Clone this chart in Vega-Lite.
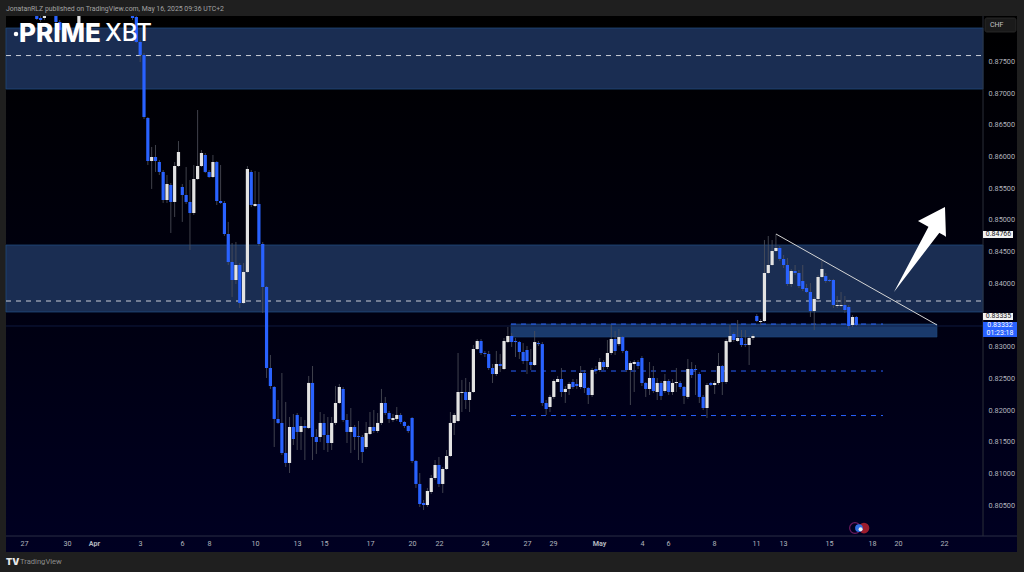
{"$schema":"https://vega.github.io/schema/vega-lite/v6.json","width":1024,"height":572,"padding":0,"autosize":{"type":"none"},"background":"#1f1f1f","config":{"view":{"stroke":null},"font":"Roboto"},
"datasets":{"candles":[
{"t":-28,"o":0.88214,"h":0.88214,"l":0.88151,"c":0.88167},{"t":-27,"o":0.88183,"h":0.88214,"l":0.8812,"c":0.88151},{"t":-26,"o":0.88183,"h":0.88214,"l":0.88151,"c":0.88214},{"t":-23,"o":0.88214,"h":0.88214,"l":0.88088,"c":0.8812},{"t":-22,"o":0.8812,"h":0.88151,"l":0.87947,"c":0.87994},{"t":-21,"o":0.87994,"h":0.88025,"l":0.87868,"c":0.879},{"t":-17,"o":0.88072,"h":0.88214,"l":0.88025,"c":0.88214},{"t":-3,"o":0.88214,"h":0.88214,"l":0.88151,"c":0.88183},{"t":-2,"o":0.88199,"h":0.88214,"l":0.87789,"c":0.87805},{"t":-1,"o":0.87805,"h":0.87836,"l":0.87489,"c":0.876},
{"t":0,"o":0.876,"h":0.87631,"l":0.8659,"c":0.86622},{"t":1,"o":0.86606,"h":0.86622,"l":0.85865,"c":0.85928},{"t":2,"o":0.85928,"h":0.86149,"l":0.85487,"c":0.85991},{"t":3,"o":0.85991,"h":0.8618,"l":0.85755,"c":0.85928},{"t":4,"o":0.85912,"h":0.85944,"l":0.85707,"c":0.85755},{"t":5,"o":0.85755,"h":0.85786,"l":0.85266,"c":0.85313},{"t":6,"o":0.85313,"h":0.85707,"l":0.85266,"c":0.85565},{"t":7,"o":0.8555,"h":0.85581,"l":0.84793,"c":0.85282},{"t":8,"o":0.85282,"h":0.85912,"l":0.85045,"c":0.85849},{"t":9,"o":0.85849,"h":0.86243,"l":0.85833,"c":0.8607},
{"t":10,"o":0.85518,"h":0.85565,"l":0.84967,"c":0.85392},{"t":11,"o":0.85392,"h":0.85833,"l":0.8525,"c":0.85282},{"t":12,"o":0.85282,"h":0.85628,"l":0.84524,"c":0.85108},{"t":13,"o":0.85108,"h":0.85865,"l":0.85076,"c":0.85644},{"t":14,"o":0.85644,"h":0.86732,"l":0.85628,"c":0.85849},{"t":15,"o":0.85849,"h":0.86101,"l":0.85833,"c":0.86054},{"t":16,"o":0.86023,"h":0.86054,"l":0.85739,"c":0.85755},{"t":17,"o":0.85755,"h":0.85786,"l":0.8566,"c":0.85676},{"t":18,"o":0.85676,"h":0.86023,"l":0.8566,"c":0.85912},{"t":19,"o":0.85912,"h":0.85928,"l":0.85234,"c":0.85297},
{"t":20,"o":0.85297,"h":0.85865,"l":0.8525,"c":0.85266},{"t":21,"o":0.85266,"h":0.85297,"l":0.84746,"c":0.84777},{"t":22,"o":0.84777,"h":0.84967,"l":0.84288,"c":0.84335},{"t":23,"o":0.84335,"h":0.84635,"l":0.83784,"c":0.84051},{"t":24,"o":0.84051,"h":0.84651,"l":0.83988,"c":0.84288},{"t":25,"o":0.84288,"h":0.8432,"l":0.8361,"c":0.83689},{"t":26,"o":0.83689,"h":0.8432,"l":0.83673,"c":0.84178},{"t":27,"o":0.84178,"h":0.85849,"l":0.84162,"c":0.85802},{"t":28,"o":0.85755,"h":0.85786,"l":0.85202,"c":0.85234},{"t":29,"o":0.85218,"h":0.85771,"l":0.85202,"c":0.8525},
{"t":30,"o":0.8525,"h":0.85755,"l":0.84588,"c":0.84619},{"t":31,"o":0.84619,"h":0.84651,"l":0.83531,"c":0.83941},{"t":32,"o":0.83941,"h":0.83957,"l":0.82506,"c":0.82664},{"t":33,"o":0.82664,"h":0.82869,"l":0.82333,"c":0.8238},{"t":34,"o":0.82364,"h":0.8238,"l":0.81418,"c":0.8186},{"t":35,"o":0.8186,"h":0.82159,"l":0.81781,"c":0.81797},{"t":36,"o":0.81797,"h":0.82585,"l":0.81292,"c":0.81323},{"t":37,"o":0.81323,"h":0.82128,"l":0.81103,"c":0.81166},{"t":38,"o":0.81166,"h":0.81891,"l":0.81008,"c":0.81733},{"t":39,"o":0.81733,"h":0.81938,"l":0.81449,"c":0.81544},
{"t":40,"o":0.81923,"h":0.81954,"l":0.81371,"c":0.81655},{"t":41,"o":0.81655,"h":0.81891,"l":0.81371,"c":0.81749},{"t":42,"o":0.81749,"h":0.81844,"l":0.81213,"c":0.81718},{"t":43,"o":0.81718,"h":0.82538,"l":0.81702,"c":0.82428},{"t":44,"o":0.82428,"h":0.82695,"l":0.81213,"c":0.81576},{"t":45,"o":0.81576,"h":0.81702,"l":0.81308,"c":0.81497},{"t":46,"o":0.81576,"h":0.8197,"l":0.81497,"c":0.81797},{"t":47,"o":0.81797,"h":0.81938,"l":0.81371,"c":0.81607},{"t":48,"o":0.81607,"h":0.81891,"l":0.81339,"c":0.81481},{"t":49,"o":0.81481,"h":0.81891,"l":0.81371,"c":0.81797},
{"t":50,"o":0.81797,"h":0.8238,"l":0.81765,"c":0.82112},{"t":51,"o":0.82112,"h":0.82412,"l":0.82096,"c":0.82364},{"t":52,"o":0.82333,"h":0.82364,"l":0.81812,"c":0.81844},{"t":53,"o":0.81844,"h":0.81938,"l":0.81481,"c":0.81655},{"t":54,"o":0.81655,"h":0.82033,"l":0.81323,"c":0.81733},{"t":55,"o":0.81733,"h":0.81765,"l":0.81371,"c":0.81576},{"t":56,"o":0.81591,"h":0.81828,"l":0.81213,"c":0.81576},{"t":57,"o":0.81576,"h":0.81607,"l":0.81166,"c":0.81339},{"t":58,"o":0.81418,"h":0.81812,"l":0.81386,"c":0.81639},{"t":59,"o":0.81623,"h":0.8197,"l":0.81607,"c":0.81733},
{"t":60,"o":0.81733,"h":0.82001,"l":0.81639,"c":0.8167},{"t":61,"o":0.8167,"h":0.81954,"l":0.81639,"c":0.81797},{"t":62,"o":0.81797,"h":0.82333,"l":0.81765,"c":0.82112},{"t":63,"o":0.82112,"h":0.82207,"l":0.81923,"c":0.81954},{"t":64,"o":0.81954,"h":0.81986,"l":0.81797,"c":0.8186},{"t":65,"o":0.81844,"h":0.81938,"l":0.81812,"c":0.81875},{"t":66,"o":0.8186,"h":0.82049,"l":0.81828,"c":0.81923},{"t":67,"o":0.81923,"h":0.81954,"l":0.81781,"c":0.81812},{"t":68,"o":0.81812,"h":0.81828,"l":0.81718,"c":0.81749},{"t":69,"o":0.81749,"h":0.81765,"l":0.81639,"c":0.8167},
{"t":70,"o":0.81875,"h":0.81891,"l":0.81166,"c":0.81197},{"t":71,"o":0.81197,"h":0.81213,"l":0.80772,"c":0.80835},{"t":72,"o":0.80835,"h":0.81008,"l":0.80472,"c":0.80519},{"t":73,"o":0.80535,"h":0.80582,"l":0.80424,"c":0.80503},{"t":74,"o":0.80503,"h":0.80772,"l":0.80472,"c":0.80724},{"t":75,"o":0.80708,"h":0.80977,"l":0.80677,"c":0.80929},{"t":76,"o":0.80929,"h":0.81213,"l":0.80898,"c":0.81134},{"t":77,"o":0.81134,"h":0.8126,"l":0.80787,"c":0.80835},{"t":78,"o":0.80835,"h":0.81103,"l":0.80693,"c":0.81071},{"t":79,"o":0.81071,"h":0.81371,"l":0.81055,"c":0.81276},
{"t":80,"o":0.81276,"h":0.8197,"l":0.8126,"c":0.81797},{"t":81,"o":0.81797,"h":0.81954,"l":0.81607,"c":0.81923},{"t":82,"o":0.81828,"h":0.829,"l":0.81812,"c":0.82285},{"t":83,"o":0.8227,"h":0.82475,"l":0.8197,"c":0.82285},{"t":84,"o":0.82285,"h":0.82506,"l":0.82017,"c":0.82159},{"t":85,"o":0.82159,"h":0.82443,"l":0.8197,"c":0.82285},{"t":86,"o":0.82285,"h":0.83026,"l":0.82269,"c":0.82963},{"t":87,"o":0.82963,"h":0.83121,"l":0.82948,"c":0.83089},{"t":88,"o":0.83089,"h":0.83121,"l":0.82869,"c":0.829},{"t":89,"o":0.829,"h":0.82932,"l":0.82837,"c":0.82885},
{"t":90,"o":0.82885,"h":0.82932,"l":0.82632,"c":0.82664},{"t":91,"o":0.82664,"h":0.82727,"l":0.82427,"c":0.82569},{"t":92,"o":0.82569,"h":0.82932,"l":0.82538,"c":0.82727},{"t":93,"o":0.82727,"h":0.82885,"l":0.826,"c":0.82695},{"t":94,"o":0.82648,"h":0.83137,"l":0.82632,"c":0.83089},{"t":95,"o":0.83073,"h":0.8331,"l":0.83057,"c":0.83168},{"t":96,"o":0.83168,"h":0.83215,"l":0.82995,"c":0.83073},{"t":97,"o":0.83089,"h":0.83137,"l":0.82837,"c":0.83073},{"t":98,"o":0.83073,"h":0.83089,"l":0.82806,"c":0.82916},{"t":99,"o":0.82916,"h":0.83057,"l":0.82727,"c":0.82774},
{"t":100,"o":0.82948,"h":0.8301,"l":0.82569,"c":0.82774},{"t":101,"o":0.82758,"h":0.82963,"l":0.82632,"c":0.82711},{"t":102,"o":0.82711,"h":0.83247,"l":0.82695,"c":0.83073},{"t":103,"o":0.83057,"h":0.83089,"l":0.8301,"c":0.83041},{"t":104,"o":0.83041,"h":0.83073,"l":0.82065,"c":0.82112},{"t":105,"o":0.82112,"h":0.82159,"l":0.81923,"c":0.82017},{"t":106,"o":0.82049,"h":0.82238,"l":0.8197,"c":0.82207},{"t":107,"o":0.82207,"h":0.8249,"l":0.82175,"c":0.82459},{"t":108,"o":0.82443,"h":0.82538,"l":0.82443,"c":0.8249},{"t":109,"o":0.8249,"h":0.82664,"l":0.82207,"c":0.82285},
{"t":110,"o":0.82285,"h":0.8238,"l":0.82112,"c":0.82333},{"t":111,"o":0.82333,"h":0.82443,"l":0.82238,"c":0.82412},{"t":112,"o":0.82443,"h":0.8249,"l":0.82333,"c":0.82364},{"t":113,"o":0.82412,"h":0.8249,"l":0.82333,"c":0.8238},{"t":114,"o":0.82364,"h":0.82695,"l":0.82333,"c":0.82585},{"t":115,"o":0.82585,"h":0.82632,"l":0.8227,"c":0.82348},{"t":116,"o":0.82348,"h":0.82364,"l":0.82096,"c":0.82238},{"t":117,"o":0.82238,"h":0.82664,"l":0.82207,"c":0.82632},{"t":118,"o":0.82648,"h":0.82695,"l":0.82569,"c":0.82617},{"t":119,"o":0.82632,"h":0.82821,"l":0.826,"c":0.82758},
{"t":120,"o":0.82758,"h":0.8279,"l":0.82632,"c":0.82679},{"t":121,"o":0.82679,"h":0.83105,"l":0.82648,"c":0.829},{"t":122,"o":0.829,"h":0.83342,"l":0.82869,"c":0.83121},{"t":123,"o":0.83121,"h":0.83247,"l":0.82869,"c":0.82932},{"t":124,"o":0.83041,"h":0.83279,"l":0.8301,"c":0.83152},{"t":125,"o":0.83152,"h":0.83168,"l":0.829,"c":0.82932},{"t":126,"o":0.82932,"h":0.82948,"l":0.826,"c":0.82632},{"t":127,"o":0.82632,"h":0.82774,"l":0.8208,"c":0.82742},{"t":128,"o":0.82727,"h":0.8279,"l":0.82285,"c":0.82758},{"t":129,"o":0.82758,"h":0.8279,"l":0.82648,"c":0.82695},
{"t":130,"o":0.82821,"h":0.82853,"l":0.8238,"c":0.82427},{"t":131,"o":0.82427,"h":0.82443,"l":0.82207,"c":0.82333},{"t":132,"o":0.82333,"h":0.82758,"l":0.82238,"c":0.82506},{"t":133,"o":0.82506,"h":0.82695,"l":0.8227,"c":0.82301},{"t":134,"o":0.82285,"h":0.82506,"l":0.82159,"c":0.82427},{"t":135,"o":0.82427,"h":0.82459,"l":0.82159,"c":0.82223},{"t":136,"o":0.82301,"h":0.82569,"l":0.8227,"c":0.82459},{"t":137,"o":0.82459,"h":0.8249,"l":0.82238,"c":0.82285},{"t":138,"o":0.82285,"h":0.8249,"l":0.82238,"c":0.82427},{"t":139,"o":0.82427,"h":0.82664,"l":0.82285,"c":0.82443},
{"t":140,"o":0.82427,"h":0.82459,"l":0.82333,"c":0.82364},{"t":141,"o":0.82364,"h":0.8238,"l":0.82096,"c":0.82223},{"t":142,"o":0.82207,"h":0.82806,"l":0.82175,"c":0.82648},{"t":143,"o":0.82648,"h":0.82758,"l":0.82506,"c":0.82553},{"t":144,"o":0.82648,"h":0.82711,"l":0.82238,"c":0.82632},{"t":145,"o":0.82569,"h":0.826,"l":0.82112,"c":0.82207},{"t":146,"o":0.82207,"h":0.82238,"l":0.82001,"c":0.82033},{"t":147,"o":0.82033,"h":0.82427,"l":0.81875,"c":0.82396},{"t":148,"o":0.82427,"h":0.82443,"l":0.8238,"c":0.82396},{"t":149,"o":0.82396,"h":0.82459,"l":0.82254,"c":0.82427},
{"t":150,"o":0.82427,"h":0.829,"l":0.82396,"c":0.82695},{"t":151,"o":0.82695,"h":0.82711,"l":0.82238,"c":0.82443},{"t":152,"o":0.82443,"h":0.83121,"l":0.82412,"c":0.83089},{"t":153,"o":0.83073,"h":0.83342,"l":0.83057,"c":0.83168},{"t":154,"o":0.832,"h":0.83231,"l":0.83073,"c":0.83105},{"t":155,"o":0.83089,"h":0.83421,"l":0.83073,"c":0.83137},{"t":156,"o":0.83137,"h":0.83263,"l":0.82995,"c":0.83026},{"t":157,"o":0.83041,"h":0.83263,"l":0.82995,"c":0.83026},{"t":158,"o":0.83026,"h":0.83168,"l":0.82711,"c":0.83137},{"t":159,"o":0.83137,"h":0.832,"l":0.83105,"c":0.83168},
{"t":160,"o":0.83484,"h":0.83515,"l":0.83389,"c":0.83405},{"t":161,"o":0.83389,"h":0.83436,"l":0.83342,"c":0.83405},{"t":162,"o":0.83405,"h":0.84682,"l":0.83389,"c":0.84162},{"t":163,"o":0.84162,"h":0.84745,"l":0.84146,"c":0.84288},{"t":164,"o":0.84288,"h":0.84682,"l":0.84272,"c":0.84509},{"t":165,"o":0.84509,"h":0.84777,"l":0.84493,"c":0.84556},{"t":166,"o":0.84556,"h":0.84588,"l":0.84351,"c":0.84383},{"t":167,"o":0.84383,"h":0.84446,"l":0.8424,"c":0.84288},{"t":168,"o":0.84288,"h":0.84398,"l":0.83957,"c":0.83988},{"t":169,"o":0.83988,"h":0.84225,"l":0.83941,"c":0.84193},
{"t":170,"o":0.84193,"h":0.84288,"l":0.8413,"c":0.84162},{"t":171,"o":0.84162,"h":0.84209,"l":0.83926,"c":0.83957},{"t":172,"o":0.84036,"h":0.84288,"l":0.83878,"c":0.83909},{"t":173,"o":0.83925,"h":0.83988,"l":0.83846,"c":0.83862},{"t":174,"o":0.83862,"h":0.84004,"l":0.83468,"c":0.83562},{"t":175,"o":0.83562,"h":0.83784,"l":0.83263,"c":0.83752},{"t":176,"o":0.83752,"h":0.8413,"l":0.8372,"c":0.84099},{"t":177,"o":0.84099,"h":0.84351,"l":0.84083,"c":0.84225},{"t":178,"o":0.84114,"h":0.84162,"l":0.84004,"c":0.84036},{"t":179,"o":0.84051,"h":0.84067,"l":0.8402,"c":0.84036},
{"t":180,"o":0.84051,"h":0.84067,"l":0.8361,"c":0.83657},{"t":181,"o":0.83642,"h":0.83799,"l":0.8361,"c":0.83657},{"t":182,"o":0.83642,"h":0.83862,"l":0.83626,"c":0.83657},{"t":183,"o":0.83657,"h":0.83799,"l":0.83531,"c":0.83578},{"t":184,"o":0.83626,"h":0.83657,"l":0.83279,"c":0.83326},{"t":185,"o":0.83342,"h":0.835,"l":0.8331,"c":0.83468},{"t":186,"o":0.83468,"h":0.83484,"l":0.83326,"c":0.83342}
]},
"encoding":{
"x":{"field":"t","type":"quantitative","title":null,"scale":{"domain":[-37.6,229.77],"nice":false,"zero":false,"padding":0},"axis":{"orient":"bottom","zindex":1,"grid":false,"domain":false,"ticks":false,"labelPadding":-33,"labelColor":"#b2b5be","labelFontSize":7.2,"labelOverlap":false,"labelFlush":false,"labelFontWeight":{"expr":"datum.value==-13.05||datum.value==118.8?'bold':'normal'"},"values":[-31.33,-20.1,-13.05,-1.04,9.92,16.97,28.98,39.95,47,59,69.97,77.02,89.03,100,106.79,118.8,130.03,136.81,148.83,159.79,166.84,178.85,190.08,196.87,208.88],"labelExpr":"{'-31.33':'27','-20.1':'30','-13.05':'Apr','-1.04':'3','9.92':'6','16.97':'8','28.98':'10','39.95':'13','47':'15','59':'17','69.97':'20','77.02':'22','89.03':'24','100':'27','106.79':'29','118.8':'May','130.03':'4','136.81':'6','148.83':'8','159.79':'11','166.84':'13','178.85':'15','190.08':'18','196.87':'20','208.88':'22'}[datum.value]"}},
"y":{"field":"p","type":"quantitative","title":null,"scale":{"domain":[0.794467,0.884668],"nice":false,"zero":false},"axis":{"orient":"right","zindex":1,"grid":false,"domain":false,"ticks":false,"labelPadding":-36,"labelAlign":"left","labelColor":"#b2b5be","labelFontSize":7.3,"format":".5f","labelOverlap":false,"values":[0.805,0.81,0.815,0.82,0.825,0.83,0.84,0.845,0.85,0.855,0.86,0.865,0.87,0.875]}}
},
"layer":[
{"data":{"values":[{"t":-36.03,"t2":227.94,"p":0.88214,"p2":0.79762}]},"mark":{"type":"rect","color":{"gradient":"linear","x1":0,"y1":0,"x2":0,"y2":1,"stops":[{"offset":0,"color":"#000000"},{"offset":0.5,"color":"#00000f"},{"offset":1,"color":"#000022"}]}},"encoding":{"x2":{"field":"t2"},"y2":{"field":"p2"}}},
{"data":{"values":[{"t":-36.03,"t2":219.07,"p":0.88025,"p2":0.87063},{"t":-36.03,"t2":219.07,"p":0.84603,"p2":0.83547}]},"mark":{"type":"rect","fill":"#1a2d52","stroke":"#1f4a7d","strokeWidth":0.8},"encoding":{"x2":{"field":"t2"},"y2":{"field":"p2"}}},
{"data":{"values":[{"t":95.82,"t2":207.05,"p":0.83357,"p2":0.83152}]},"mark":{"type":"rect","fill":"#1a3a6c","stroke":"#1f4a7d","strokeWidth":0.6},"encoding":{"x2":{"field":"t2"},"y2":{"field":"p2"}}},
{"data":{"values":[{"t":-36.03,"t2":219.07,"p":0.83326}]},"mark":{"type":"rule","stroke":"#12204a","strokeWidth":0.8},"encoding":{"x2":{"field":"t2"}}},
{"data":{"values":[{"t":-36.03,"t2":219.07,"p":0.87591},{"t":-36.03,"t2":219.07,"p":0.8372}]},"mark":{"type":"rule","stroke":"#c9cdd6","strokeWidth":1,"strokeDash":[5,5]},"encoding":{"x2":{"field":"t2"}}},
{"data":{"values":[{"t":95.82,"t2":192.95,"p":0.83357},{"t":95.82,"t2":192.95,"p":0.82616},{"t":95.82,"t2":192.95,"p":0.81914}]},"mark":{"type":"rule","stroke":"#2962ff","strokeWidth":1,"strokeDash":[5,5]},"encoding":{"x2":{"field":"t2"}}},
{"data":{"values":[{"t":219.07,"p":0.88214,"p2":0.80014}]},"mark":{"type":"rule","stroke":"#2a2e39","strokeWidth":1},"encoding":{"y2":{"field":"p2"}}},
{"data":{"values":[{"t":-36.03,"t2":227.94,"p":0.80014}]},"mark":{"type":"rule","stroke":"#2a2e45","strokeWidth":1},"encoding":{"x2":{"field":"t2"}}},
{"data":{"name":"candles"},"mark":{"type":"rule","stroke":"#4f525c","strokeWidth":0.8},"encoding":{"y":{"field":"l","type":"quantitative"},"y2":{"field":"h"}}},
{"data":{"name":"candles"},"mark":{"type":"bar","size":3.2},"encoding":{"y":{"field":"o","type":"quantitative"},"y2":{"field":"c"},"color":{"condition":{"test":"datum.c>=datum.o","value":"#e3e3e3"},"value":"#2962ff"}}},
{"data":{"values":[{"t":165.01,"t2":207.05,"p":0.84777,"p2":0.83342}]},"mark":{"type":"rule","stroke":"#d5d5d5","strokeWidth":1},"encoding":{"x2":{"field":"t2"},"y2":{"field":"p2"}}},
{"data":{"values":[{"part":"shaft","t":195.82,"p":0.83862,"p2":0.83862},{"part":"shaft","t":205.22,"p":0.84934,"p2":0.84603},{"part":"shaft","t":207.83,"p":0.84808,"p2":0.84808},{"part":"head","t":202.09,"p":0.84982,"p2":0.84982},{"part":"head","t":209.14,"p":0.85202,"p2":0.84745},{"part":"head","t":209.4,"p":0.84729,"p2":0.84729}]},"mark":{"type":"area","color":"#ffffff","opacity":1},"encoding":{"y2":{"field":"p2"},"detail":{"field":"part"}}},
{"data":{"values":[{"t":-33.42,"p":0.87931}]},"mark":{"type":"point","filled":true,"color":"#ffffff","size":20,"opacity":1}},
{"data":{"values":[{"t":-32.64,"p":0.87931,"label":"PRIME"}]},"mark":{"type":"text","font":"Inter","fontWeight":800,"fontSize":26,"color":"#ffffff","align":"left","baseline":"middle"},"encoding":{"text":{"field":"label"}}},
{"data":{"values":[{"t":-10.18,"p":0.87931,"label":"XBT"}]},"mark":{"type":"text","font":"Inter","fontWeight":500,"fontSize":24,"color":"#ffffff","align":"left","baseline":"middle"},"encoding":{"text":{"field":"label"}}},
{"data":{"values":[{"t":-36.03,"p":0.88325,"label":"JonatanRLZ published on TradingView.com, May 16, 2025 09:36 UTC+2"}]},"mark":{"type":"text","fontSize":6.9,"color":"#a3a3a3","align":"left","baseline":"middle"},"encoding":{"text":{"field":"label"}}},
{"data":{"values":[{"t":-32.38,"p":0.79604,"label":"TradingView"}]},"mark":{"type":"text","fontSize":7.6,"color":"#8c8c8c","align":"left","baseline":"middle"},"encoding":{"text":{"field":"label"}}},
{"data":{"values":[{"t":-36.03,"p":0.79604,"label":"TV"}]},"mark":{"type":"text","font":"Inter","fontWeight":900,"fontSize":9,"color":"#e8e8e8","align":"left","baseline":"middle"},"encoding":{"text":{"field":"label"}}},
{"data":{"values":[{"t":219.58,"t2":227.68,"p":0.88183,"p2":0.87962}]},"mark":{"type":"rect","fill":"#1a1a1a","stroke":"#2e2e2e","strokeWidth":0.8,"cornerRadius":2},"encoding":{"x2":{"field":"t2"},"y2":{"field":"p2"}}},
{"data":{"values":[{"t":220.89,"p":0.88072,"label":"CHF"}]},"mark":{"type":"text","fontSize":7,"color":"#c4c4c4","align":"left","baseline":"middle"},"encoding":{"text":{"field":"label"}}},
{"data":{"values":[{"t":219.07,"t2":226.9,"p":0.84824,"p2":0.84714},{"t":219.07,"t2":226.9,"p":0.83531,"p2":0.83421}]},"mark":{"type":"rect","fill":"#f2f2f2"},"encoding":{"x2":{"field":"t2"},"y2":{"field":"p2"}}},
{"data":{"values":[{"t":219.07,"t2":227.94,"p":0.83389,"p2":0.83152}]},"mark":{"type":"rect","fill":"#2962ff"},"encoding":{"x2":{"field":"t2"},"y2":{"field":"p2"}}},
{"data":{"values":[{"t":223.1,"p":0.84769,"label":"0.84766"},{"t":223.1,"p":0.83476,"label":"0.83335"}]},"mark":{"type":"text","fontSize":7,"color":"#222222","align":"center","baseline":"middle"},"encoding":{"text":{"field":"label"}}},
{"data":{"values":[{"t":223.5,"p":0.83342,"label":"0.83332"},{"t":223.5,"p":0.83215,"label":"01:23:18"}]},"mark":{"type":"text","fontSize":7,"color":"#ffffff","align":"center","baseline":"middle"},"encoding":{"text":{"field":"label"}}},
{"data":{"values":[{"t":185.64,"p":0.8014}]},"mark":{"type":"point","filled":false,"color":"#6b1a5e","size":115,"strokeWidth":1.2,"opacity":1}},
{"data":{"values":[{"t":187.99,"p":0.8014}]},"mark":{"type":"point","filled":true,"color":"#9c1c2c","size":115,"opacity":1}},
{"data":{"values":[{"t":186.68,"p":0.8014}]},"mark":{"type":"point","filled":true,"color":"#2f6fe0","size":60,"opacity":1}},
{"data":{"values":[{"t":187.1,"p":0.8012}]},"mark":{"type":"point","filled":true,"color":"#f0f0f0","size":16,"opacity":1}}
]}
